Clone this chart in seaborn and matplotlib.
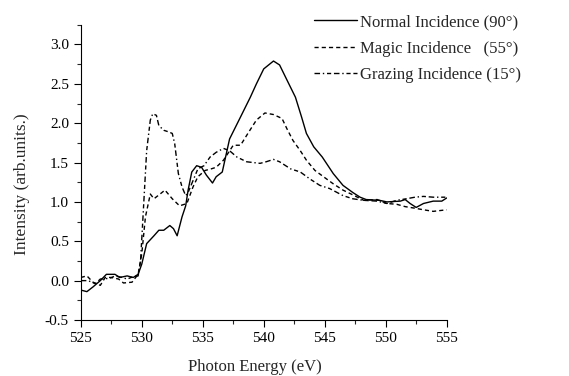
import matplotlib
matplotlib.use("Agg")
import matplotlib.pyplot as plt
from matplotlib.ticker import MultipleLocator
import pandas as pd
import seaborn as sns

# ------------------------------------------------------
# Datos
# ------------------------------------------------------
normal_x = [525.0, 525.5, 526.0, 526.6, 527.1, 527.8, 528.2, 528.8, 529.3, 529.7,
            530.0, 530.4, 531.0, 531.4, 531.8, 532.3, 532.6, 532.9, 533.3, 533.6,
            533.8, 534.1, 534.5, 534.9, 535.3, 535.8, 536.1, 536.6, 537.2, 538.1,
            538.9, 539.4, 540.0, 540.8, 541.3, 541.9, 542.6, 543.1, 543.5, 544.1,
            544.8, 545.7, 546.5, 547.3, 547.9, 548.4, 549.5, 550.1, 551.2, 551.6,
            552.0, 552.5, 553.1, 553.9, 554.6, 555.0]
normal_y = [-0.12, -0.14, -0.08, 0.0, 0.08, 0.08, 0.04, 0.06, 0.04, 0.08,
            0.21, 0.47, 0.57, 0.64, 0.64, 0.70, 0.66, 0.57, 0.81, 0.95,
            1.15, 1.38, 1.46, 1.44, 1.34, 1.24, 1.32, 1.38, 1.80, 2.08,
            2.33, 2.50, 2.69, 2.79, 2.74, 2.55, 2.33, 2.08, 1.87, 1.70,
            1.57, 1.36, 1.21, 1.12, 1.06, 1.03, 1.02, 1.00, 1.01, 1.03,
            0.98, 0.93, 0.98, 1.01, 1.01, 1.05]

magic_x = [525.0, 525.5, 526.0, 526.6, 527.0, 527.5, 528.1, 528.5, 529.2, 529.7,
           530.0, 530.3, 530.7, 531.0, 531.5, 531.9, 532.5, 533.1, 533.7, 534.2,
           534.6, 535.2, 535.7, 536.1, 536.7, 537.5, 538.1, 538.7, 539.4, 540.1,
           540.8, 541.5, 541.9, 542.4, 543.0, 543.5, 544.2, 544.9, 545.7, 546.5,
           547.3, 548.2, 549.3, 550.1, 550.9, 551.6, 552.4, 553.1, 553.9, 555.0]
magic_y = [0.04, 0.06, -0.02, -0.06, 0.04, 0.04, 0.02, -0.03, -0.02, 0.08,
           0.34, 0.81, 1.10, 1.04, 1.10, 1.15, 1.04, 0.95, 0.98, 1.19,
           1.32, 1.40, 1.42, 1.44, 1.53, 1.72, 1.72, 1.87, 2.04, 2.13,
           2.11, 2.06, 1.93, 1.78, 1.65, 1.53, 1.40, 1.32, 1.23, 1.15,
           1.09, 1.02, 1.03, 0.98, 0.97, 0.94, 0.92, 0.90, 0.88, 0.90]

grazing_x = [525.0, 525.6, 526.2, 526.6, 527.4, 527.8, 528.4, 528.8, 529.3, 529.7,
             529.9, 530.1, 530.4, 530.7, 530.9, 531.2, 531.4, 531.8, 532.2, 532.5,
             532.7, 533.0, 533.3, 533.6, 533.8, 534.2, 534.6, 535.1, 535.6, 536.1,
             536.7, 537.2, 537.8, 538.6, 539.7, 540.2, 540.8, 541.3, 542.2, 543.0,
             543.8, 544.6, 545.4, 546.5, 547.3, 548.2, 549.3, 550.1, 550.9, 551.7,
             552.4, 553.1, 553.9, 555.0]
grazing_y = [0.0, 0.0, -0.04, 0.02, 0.03, 0.06, 0.04, 0.02, 0.05, 0.06,
             0.25, 0.81, 1.65, 2.04, 2.12, 2.10, 1.97, 1.91, 1.89, 1.87,
             1.74, 1.36, 1.19, 1.08, 1.12, 1.27, 1.42, 1.46, 1.57, 1.63,
             1.68, 1.65, 1.57, 1.51, 1.49, 1.51, 1.54, 1.51, 1.42, 1.38,
             1.29, 1.21, 1.17, 1.08, 1.04, 1.02, 1.01, 0.98, 1.02, 1.04,
             1.06, 1.07, 1.06, 1.06]

labels = ["Normal Incidence (90°)", "Magic Incidence   (55°)", "Grazing Incidence (15°)"]


def main():
    sns.set_theme(style="ticks")
    plt.rcParams["font.family"] = ["Liberation Serif", "DejaVu Serif"]

    fig = plt.figure(figsize=(5.69, 3.76), dpi=100)
    ax = fig.add_axes([0.142, 0.149, 0.643, 0.785])

    series = [
        (normal_x, normal_y, labels[0], "-"),
        (magic_x, magic_y, labels[1], (0, (3, 2.2))),
        (grazing_x, grazing_y, labels[2], (0, (4, 2, 1, 2, 3, 2))),
    ]
    for xs, ys, lab, ls in series:
        df = pd.DataFrame({"energy": xs, "intensity": ys})
        sns.lineplot(data=df, x="energy", y="intensity", ax=ax, color="black",
                     linewidth=1.0, linestyle=ls, label=lab)

    ax.set_xlim(525, 555)
    ax.xaxis.set_major_locator(MultipleLocator(5))
    ax.xaxis.set_minor_locator(MultipleLocator(2.5))
    ax.yaxis.set_major_locator(MultipleLocator(0.5))
    ax.yaxis.set_minor_locator(MultipleLocator(0.25))
    ax.tick_params(which="major", direction="out", length=5, width=0.8,
                   labelsize=11, colors="black")
    ax.tick_params(which="minor", direction="out", length=3, width=0.8)
    ax.set_yticks(ax.get_yticks())
    ax.set_yticklabels([f"{v:.1f}" for v in ax.get_yticks()])
    ax.set_ylim(-0.5, 3.25)

    sns.despine(ax=ax)
    for sp in ("left", "bottom"):
        ax.spines[sp].set_linewidth(0.8)
        ax.spines[sp].set_color("black")

    ax.set_xlabel("Photon Energy (eV)", fontsize=12, labelpad=10)
    ax.set_ylabel("Intensity (arb.units.)", fontsize=12.5, labelpad=11)
    ax.xaxis.label.set_x(0.476)
    ax.yaxis.label.set_y(0.461)

    ax.legend(loc="upper left", bbox_to_anchor=(0.551, 0.962),
              bbox_transform=fig.transFigure, frameon=False, fontsize=12,
              handlelength=2.6, handletextpad=0.2, labelspacing=0.62,
              borderaxespad=0, borderpad=0)

    fig.savefig("out.png", dpi=100)
    plt.close(fig)


if __name__ == "__main__":
    main()
